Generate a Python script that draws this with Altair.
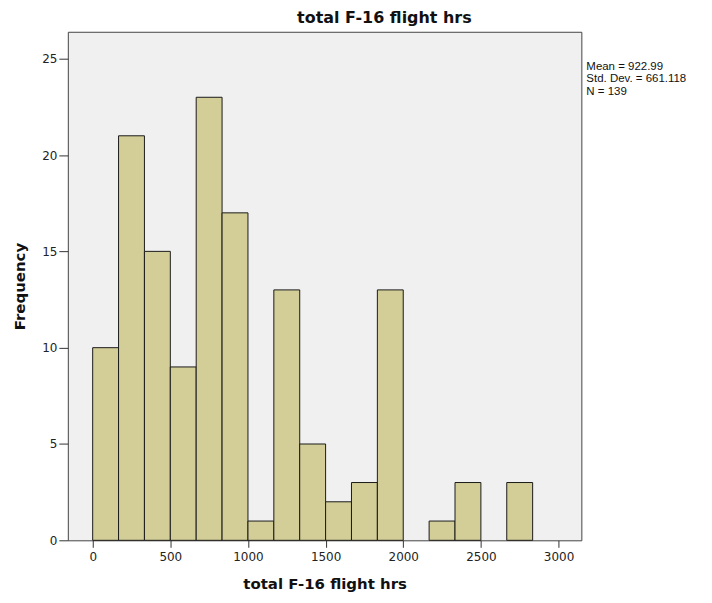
import altair as alt
import pandas as pd

bin_start = [0, 166.67, 333.33, 500, 666.67, 833.33, 1000, 1166.67, 1333.33, 1500,
             1666.67, 1833.33, 2000, 2166.67, 2333.33, 2500, 2666.67]
bin_width = 166.67
counts = [10, 21, 15, 9, 23, 17, 1, 13, 5, 2, 3, 13, 0, 1, 3, 0, 3]
stats_lines = ["Mean = 922.99", "Std. Dev. = 661.118", "N = 139"]
stats_row = [35, 47.5, 60]

df = pd.DataFrame({
    "start": bin_start,
    "end": [s + bin_width for s in bin_start],
    "count": counts,
})
df = df[df["count"] > 0]

W, H = 515, 510
FONT = "DejaVu Sans"

x_scale = alt.Scale(domain=[-160, 3147], nice=False, zero=False)
y_scale = alt.Scale(domain=[0, 26.4], nice=False)

bars = alt.Chart(df).mark_rect(
    fill="#D3CE97", stroke="#1a1a1a", strokeWidth=1
).encode(
    x=alt.X("start:Q", scale=x_scale,
            axis=alt.Axis(values=[0, 500, 1000, 1500, 2000, 2500, 3000], format="d",
                          title="total F-16 flight hrs", grid=False, domain=False,
                          tickSize=7, tickColor="#333", labelPadding=4,
                          labelFontSize=12, labelColor="#222", labelFont=FONT,
                          titleFont=FONT, titleFontSize=15, titleFontWeight="bold",
                          titleColor="#111", titlePadding=14)),
    x2="end:Q",
    y=alt.Y("count:Q", scale=y_scale,
            axis=alt.Axis(values=[0, 5, 10, 15, 20, 25], title="Frequency",
                          grid=False, domain=False, tickSize=9, tickColor="#333",
                          labelPadding=2, labelFontSize=12, labelColor="#222",
                          labelFont=FONT, titleFont=FONT, titleFontSize=15,
                          titleFontWeight="bold", titleColor="#111", titlePadding=14)),
)

stats = alt.Chart(pd.DataFrame({"line": stats_lines, "row": stats_row})).mark_text(
    align="left", baseline="middle", font="Liberation Sans", fontSize=11.5, color="#111"
).encode(
    x=alt.value(W + 5),
    y=alt.Y("row:Q", scale=alt.Scale(domain=[0, H], range=[0, H]), axis=None),
    text="line:N",
)

chart = alt.layer(bars, stats).resolve_scale(y="independent").properties(
    width=W, height=H,
    title=alt.TitleParams("total F-16 flight hrs", font=FONT, fontSize=16,
                          fontWeight="bold", color="#111", anchor="middle",
                          dx=60, offset=6),
    autosize=alt.AutoSizeParams(type="none"),
    padding={"left": 60, "top": 23, "right": 123, "bottom": 54},
    background="white",
).configure_view(
    fill="#F0F0F0", stroke="#444", strokeWidth=1
)

chart.save("out.html", embed_options={"renderer": "svg", "actions": False})
